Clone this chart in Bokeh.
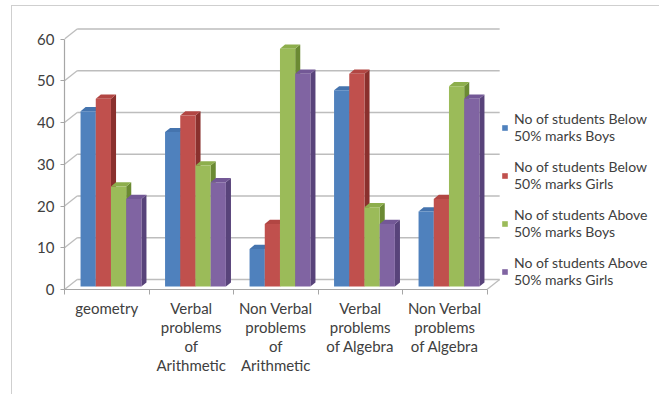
import numpy as np
from bokeh.plotting import figure
from bokeh.models import FixedTicker, Legend, LegendItem, Range1d
from bokeh.embed import file_html
from bokeh.resources import INLINE

# ---------------- data ----------------
categories = [
    "geometry",
    "Verbal\nproblems\nof\nArithmetic",
    "Non Verbal\nproblems\nof\nArithmetic",
    "Verbal\nproblems\nof Algebra",
    "Non Verbal\nproblems\nof Algebra",
]
series_names = [
    "No of students Below\n50% marks Boys",
    "No of students Below\n50% marks Girls",
    "No of students Above\n50% marks Boys",
    "No of students Above\n50% marks Girls",
]
below_boys = [42, 37, 9, 47, 18]
below_girls = [45, 41, 15, 51, 21]
above_boys = [24, 29, 57, 19, 48]
above_girls = [21, 25, 51, 15, 45]
y_ticks = [0, 10, 20, 30, 40, 50, 60]

series_values = [below_boys, below_girls, above_boys, above_girls]
front_colors = ["#4F81BD", "#C0504D", "#9BBB59", "#8064A2"]
side_colors = ["#2F5584", "#8A302D", "#6B8A33", "#58437A"]
top_colors = ["#4574AE", "#B24643", "#8DAE4C", "#735896"]

FONT = "Lato"
TXT = "#404040"

# 3D geometry (data units)
wall_dx, wall_dy = 0.15, 2.4     # back wall offset
bar_dx, bar_dy = 0.05, 0.7       # bars sit at middle depth
side_dx, side_dy = 0.06, 1.0     # depth of each bar
bar_w = 0.18
ncat = len(categories)

p = figure(
    frame_width=596, frame_height=263,
    min_border_left=52, min_border_right=0, min_border_top=20, min_border_bottom=106,
    x_range=Range1d(0, 596 / 84.5), y_range=Range1d(0, 63),
    output_backend="svg", toolbar_location=None,
)
p.margin = (5, 0, 0, 11)
p.styles = {"border-top": "1px solid #cfcfcf", "border-left": "1px solid #cfcfcf"}
p.outline_line_color = None
p.background_fill_color = "white"
p.border_fill_color = "white"
p.xgrid.visible = False
p.ygrid.visible = False

# back wall gridlines and diagonals
grid_col = "#bdbdbd"
gy = np.array(y_ticks, dtype=float)
p.segment(x0=[wall_dx] * len(gy), y0=gy + wall_dy, x1=[ncat + wall_dx] * len(gy), y1=gy + wall_dy,
          line_color=grid_col, line_width=1.6)
p.segment(x0=[0] * len(gy), y0=gy, x1=[wall_dx] * len(gy), y1=gy + wall_dy,
          line_color=grid_col, line_width=1.3)
# floor right edge
p.segment(x0=[ncat], y0=[0], x1=[ncat + wall_dx], y1=[wall_dy], line_color=grid_col, line_width=1.3)

centers = np.arange(ncat) + 0.5
legend_items = []
for s, vals in enumerate(series_values):
    v = np.array(vals, dtype=float)
    xl = centers + bar_dx + (s - 2) * bar_w
    xr = xl + bar_w
    b = bar_dy
    t = v + bar_dy
    side_xs = [[a, a + side_dx, a + side_dx, a] for a in xr]
    side_ys = [[b, b + side_dy, tt + side_dy, tt] for tt in t]
    top_xs = [[l, r, r + side_dx, l + side_dx] for l, r in zip(xl, xr)]
    top_ys = [[tt, tt, tt + side_dy, tt + side_dy] for tt in t]
    p.patches(side_xs, side_ys, fill_color=side_colors[s], line_color=None)
    p.patches(top_xs, top_ys, fill_color=top_colors[s], line_color=None)
    r = p.vbar(x=(xl + xr) / 2, width=bar_w, bottom=b, top=t,
               fill_color=front_colors[s], line_color=None)
    legend_items.append(LegendItem(label=series_names[s], renderers=[r]))

# axes
ya = p.yaxis[0]
ya.ticker = FixedTicker(ticks=y_ticks)
ya.bounds = (0, 60)
ya.axis_line_color = "#a6a6a6"
ya.axis_line_width = 1.2
ya.major_tick_line_color = "#a6a6a6"
ya.major_tick_out = 4
ya.major_tick_in = 0
ya.minor_tick_line_color = None
ya.major_label_standoff = 6
ya.major_label_text_font = FONT
ya.major_label_text_font_size = "15px"
ya.major_label_text_color = TXT

xa = p.xaxis[0]
xa.ticker = FixedTicker(ticks=list(centers), minor_ticks=list(range(ncat + 1)))
xa.major_label_overrides = {float(c): lab for c, lab in zip(centers, categories)}
xa.bounds = (0, ncat)
xa.axis_line_color = "#a6a6a6"
xa.axis_line_width = 1.2
xa.major_tick_line_color = None
xa.major_tick_out = 0
xa.major_tick_in = 0
xa.minor_tick_line_color = "#a6a6a6"
xa.minor_tick_out = 5
xa.minor_tick_in = 0
xa.major_label_standoff = 4
xa.major_label_text_font = FONT
xa.major_label_text_font_size = "15px"
xa.major_label_text_color = TXT
xa.major_label_text_line_height = 1.07

legend = Legend(items=legend_items, location=(437, 1))
legend.border_line_color = None
legend.background_fill_alpha = 0
legend.padding = 0
legend.margin = 0
legend.spacing = 14
legend.glyph_width = 7
legend.glyph_height = 7
legend.label_standoff = 6
legend.label_text_font = FONT
legend.label_text_font_size = "14px"
legend.label_text_color = TXT
p.add_layout(legend)

open("out.html", "w").write(file_html(p, INLINE))
